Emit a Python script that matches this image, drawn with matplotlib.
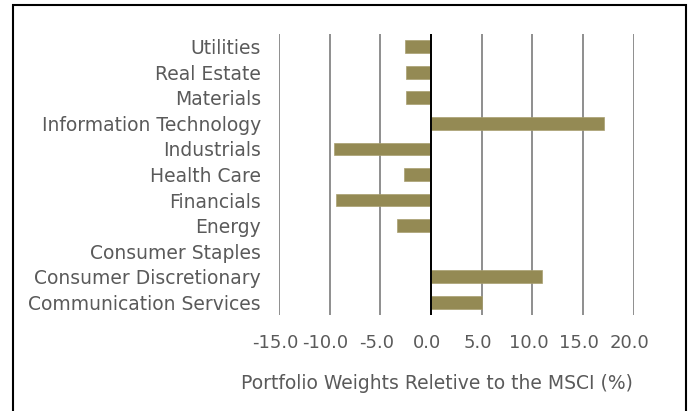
import matplotlib
matplotlib.use("Agg")
import matplotlib.pyplot as plt
import matplotlib.transforms as mtransforms
from matplotlib.patches import Rectangle

plt.rcParams["font.family"] = ["DejaVu Sans"]

categories = ["Communication Services", "Consumer Discretionary", "Consumer Staples",
              "Energy", "Financials", "Health Care", "Industrials",
              "Information Technology", "Materials", "Real Estate", "Utilities"]
values = [5.0, 11.0, 0.0, -3.35, -9.4, -2.7, -9.55, 17.1, -2.45, -2.45, -2.6]
xticks = [-15, -10, -5, 0, 5, 10, 15, 20]
xlabel = "Portfolio Weights Reletive to the MSCI (%)"

text_color = "#5a5a5a"
bar_color = "#948A54"

fig = plt.figure(figsize=(6.91, 4.11), dpi=100)
ax = fig.add_axes([279/691, 1-315/411, (633.7-279)/691, (315-34)/411])

y = list(range(len(categories)))
ax.barh(y, values, height=0.5, color=bar_color, edgecolor="#a89f70", linewidth=0.5, zorder=3)
ax.set_xlim(-15, 20)
ax.set_ylim(-0.5, len(categories) - 0.5)
ax.set_xticks(xticks)
ax.set_xticklabels([f"{t:.1f}" for t in xticks], fontsize=13, color=text_color)
ax.set_yticks(y)
ax.set_yticklabels(categories, fontsize=13.5, color=text_color)
ax.tick_params(axis="both", length=0)
ax.tick_params(axis="y", pad=13)
ax.tick_params(axis="x", pad=13.5)
offset = mtransforms.ScaledTranslation(-4/100, 0, fig.dpi_scale_trans)
for lbl in ax.get_xticklabels():
    lbl.set_transform(lbl.get_transform() + offset)
ax.xaxis.grid(True, color="#868686", linewidth=1.3, zorder=0)
ax.yaxis.grid(False)
for s in ax.spines.values():
    s.set_visible(False)
ax.axvline(0, color="black", linewidth=1.4, zorder=4)

fig.text(437/691, 1-383/411, xlabel, ha="center", va="center", fontsize=13.5, color=text_color)

fig.patches.append(Rectangle((12.5/691, -0.1), (686-12.5)/691, 1.1 - 5.5/411,
                             transform=fig.transFigure, fill=False, edgecolor="black",
                             linewidth=1.5))

fig.savefig("out.png", dpi=100)
